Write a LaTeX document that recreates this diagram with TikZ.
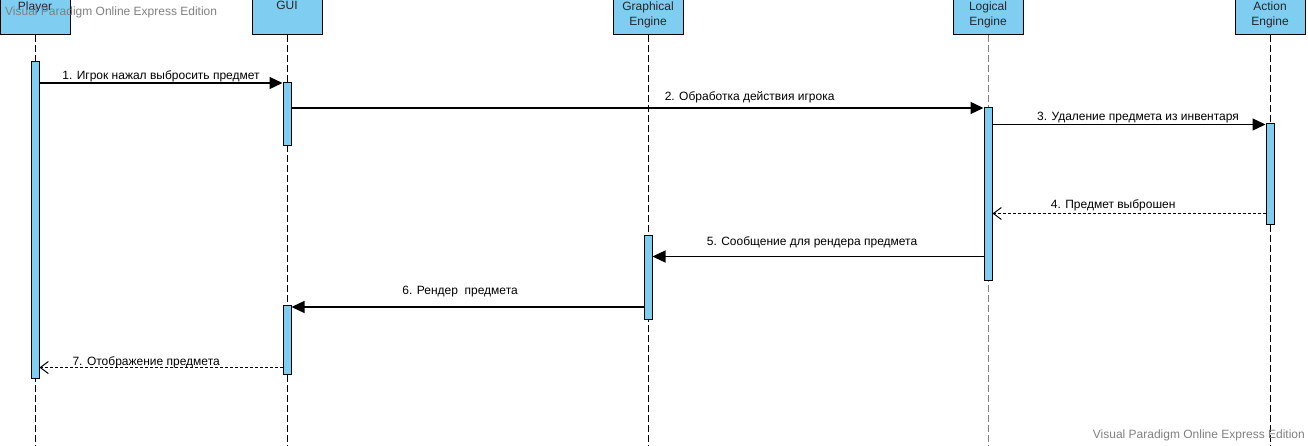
\documentclass[tikz,border=0pt]{standalone}
\usepackage{fontspec}
\setmainfont{Liberation Sans}
\usetikzlibrary{arrows.meta}
\definecolor{vpblue}{RGB}{127,206,242}
\definecolor{vpgray}{RGB}{128,128,128}
\tikzset{
    head/.style={draw, fill=vpblue, line width=0.8pt, minimum width=70pt, minimum height=40pt, anchor=south, inner sep=0pt,
        label={[anchor=north, yshift=-5pt, align=center, inner sep=2pt, font=\fontsize{12}{15}\selectfont, text=black!85]north:#1}},
    bar/.style={draw, fill=vpblue, line width=1pt, minimum width=8pt, inner sep=0pt},
    lifeline/.style={line width=0.9pt, dash pattern=on 7pt off 3pt},
    call/.style={line width=1.3pt, -{Triangle[length=13pt, width=12pt]}},
    reply/.style={line width=1pt, dash pattern=on 3pt off 2pt, -{Straight Barb[length=8pt, width=12pt, line width=1pt]}},
    msg/.style={anchor=base, font=\fontsize{12}{14}\selectfont, inner sep=0pt},
    wm/.style={font=\fontsize{12}{14}\selectfont, text=vpgray, inner sep=0pt}
}
\begin{document}
\begin{tikzpicture}[x=1pt, y=-1pt]
    \useasboundingbox (0,0) rectangle (1308,446);
    \clip (0,0) rectangle (1308,446);

    % lifeline heads
    \node[head={Player}] (player) at (35,35) {};
    \node[head={GUI}] (gui) at (287,35) {};
    \node[head={Graphical\\Engine}] (graph) at (648,35) {};
    \node[head={Logical\\Engine}] (logic) at (988,35) {};
    \node[head={Action\\Engine}] (action) at (1270,35) {};

    \draw[lifeline] (player.south) -- (player.south |- 0,446);
    \draw[lifeline] (gui.south) -- (gui.south |- 0,446);
    \draw[lifeline] (graph.south) -- (graph.south |- 0,446);
    \draw[lifeline, vpgray] (logic.south) -- (logic.south |- 0,446);
    \draw[lifeline] (action.south) -- (action.south |- 0,446);

    % activations
    \node[bar, minimum height=316pt] (pbar) at (35,220) {};
    \node[bar, minimum height=63pt] (gbar) at (287,114.5) {};
    \node[bar, minimum height=69pt] (gbarb) at (287,339.5) {};
    \node[bar, minimum height=83pt] (grbar) at (648,277.5) {};
    \node[bar, minimum height=172pt] (lbar) at (988,194) {};
    \node[bar, minimum height=101pt] (abar) at (1270,174.5) {};

    % messages
    \draw[call] (pbar.east |- 0,83) -- node[msg, midway, yshift=3pt] {1. Игрок нажал выбросить предмет} (gbar.west |- 0,83);
    \draw[call] (gbar.east |- 0,108) -- node[msg, pos=0.662, yshift=7pt] {2. Обработка действия игрока} (lbar.west |- 0,108);
    \draw[call] (lbar.east |- 0,124.5) -- node[msg, pos=0.533, yshift=4pt] {3. Удаление предмета из инвентаря} (abar.west |- 0,124.5);
    \draw[reply] (abar.west |- 0,213.5) -- node[msg, pos=0.558, yshift=5pt] {4. Предмет выброшен} (lbar.east |- 0,213.5);
    \draw[call] (lbar.west |- 0,256.5) -- node[msg, pos=0.518, yshift=11pt] {5. Сообщение для рендера предмета} (grbar.east |- 0,256.5);
    \draw[call] (grbar.west |- 0,307) -- node[msg, pos=0.521, yshift=13pt] {6. Рендер\ \ предмета} (gbarb.east |- 0,307);
    \draw[reply] (gbarb.west |- 0,367.5) -- node[msg, pos=0.561, yshift=2pt] {7. Отображение предмета} (pbar.east |- 0,367.5);

    % watermarks
    \node[wm, anchor=west] (wmtop) at (5,12) {Visual Paradigm Online Express Edition};
    \node[wm, anchor=east] (wmbot) at (1305,435) {Visual Paradigm Online Express Edition};
\end{tikzpicture}
\end{document}
